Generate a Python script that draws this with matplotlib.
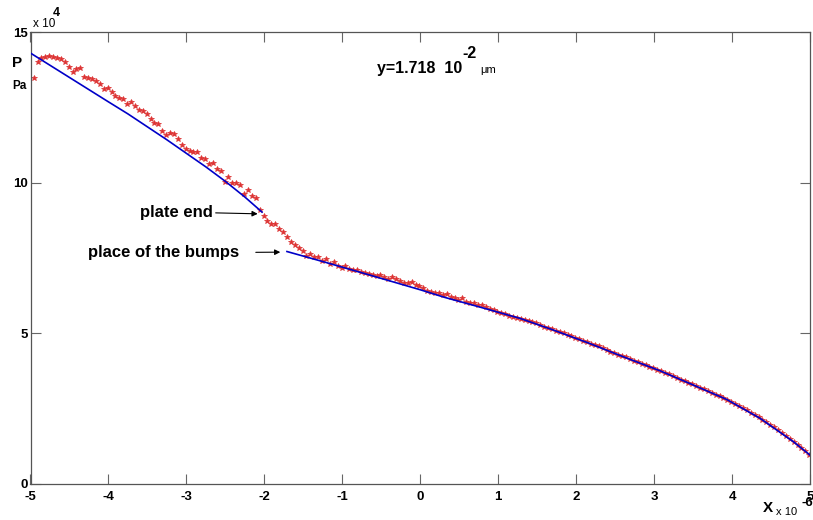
import numpy as np
import matplotlib
matplotlib.use("Agg")
import matplotlib.pyplot as plt

plt.rcParams['font.family'] = ['Liberation Sans', 'DejaVu Sans']
plt.rcParams['font.weight'] = 'bold'

# measured points (x in 1e-6, P in 1e4 Pa)
x_dots = np.linspace(-4.96, 4.99, 200)
p_dots = [
    13.49, 14.00, 14.16, 14.18, 14.22, 14.19, 14.14, 14.12, 14.03, 13.86,
    13.69, 13.78, 13.81, 13.52, 13.47, 13.45, 13.39, 13.28, 13.11, 13.14,
    13.03, 12.90, 12.81, 12.79, 12.61, 12.68, 12.55, 12.42, 12.37, 12.29,
    12.11, 12.00, 11.95, 11.73, 11.59, 11.65, 11.61, 11.45, 11.26, 11.12,
    11.07, 11.04, 11.04, 10.82, 10.79, 10.63, 10.67, 10.45, 10.41, 10.04,
    10.19, 10.01, 9.99, 9.93, 9.63, 9.77, 9.56, 9.49, 9.10, 8.90,
    8.75, 8.64, 8.64, 8.46, 8.38, 8.21, 8.03, 7.94, 7.83, 7.75,
    7.58, 7.63, 7.53, 7.54, 7.41, 7.47, 7.31, 7.38, 7.25, 7.18,
    7.25, 7.14, 7.12, 7.10, 7.05, 7.02, 6.97, 6.94, 6.91, 6.94,
    6.86, 6.80, 6.88, 6.81, 6.75, 6.69, 6.67, 6.70, 6.61, 6.58,
    6.50, 6.41, 6.37, 6.35, 6.35, 6.28, 6.31, 6.22, 6.17, 6.11,
    6.19, 6.05, 6.02, 6.00, 5.94, 5.94, 5.87, 5.80, 5.78, 5.72,
    5.67, 5.64, 5.58, 5.54, 5.50, 5.47, 5.45, 5.40, 5.38, 5.33,
    5.27, 5.23, 5.18, 5.14, 5.09, 5.05, 5.00, 4.96, 4.90, 4.86,
    4.80, 4.76, 4.70, 4.66, 4.60, 4.57, 4.50, 4.46, 4.40, 4.36,
    4.30, 4.25, 4.21, 4.15, 4.10, 4.05, 4.00, 3.95, 3.90, 3.85,
    3.80, 3.75, 3.69, 3.64, 3.58, 3.53, 3.47, 3.42, 3.36, 3.31,
    3.25, 3.19, 3.14, 3.08, 3.02, 2.97, 2.91, 2.86, 2.80, 2.73,
    2.66, 2.59, 2.52, 2.45, 2.37, 2.30, 2.22, 2.14, 2.05, 1.97,
    1.88, 1.79, 1.70, 1.60, 1.50, 1.41, 1.30, 1.19, 1.08, 0.97,
]

# fitted curves
x_fit1 = [-5.0, -4.5, -4.0, -3.75, -3.5, -3.25, -3.0, -2.75, -2.5, -2.25, -2.03]
p_fit1 = [14.31, 13.50, 12.69, 12.29, 11.86, 11.43, 10.98, 10.53, 10.05, 9.53, 9.03]
x_fit2 = [-1.71, -1.2, -0.65, 0.0, 0.31, 0.8, 1.28, 1.7, 2.17, 2.6, 3.076, 3.5, 3.93, 4.36, 4.79, 5.0]
p_fit2 = [7.72, 7.35, 6.94, 6.45, 6.20, 5.85, 5.50, 5.12, 4.67, 4.23, 3.76, 3.29, 2.81, 2.18, 1.40, 0.96]

x_ticks = [-5, -4, -3, -2, -1, 0, 1, 2, 3, 4, 5]
y_ticks = [0, 5, 10, 15]

W, H = 813, 520
fig = plt.figure(figsize=(W / 100, H / 100), dpi=100)
ax = fig.add_axes([30.5 / W, 36 / H, (810 - 30.5) / W, (484 - 32.3) / H])

ax.plot(x_dots, p_dots, linestyle='none', marker='*', markersize=4,
        color='#dd3333', markeredgewidth=0.5, zorder=2)
ax.plot(x_fit1, p_fit1, color='#0000c8', lw=1.2, zorder=3)
ax.plot(x_fit2, p_fit2, color='#0000c8', lw=1.2, zorder=3)

ax.set_xlim(-5, 5)
ax.set_ylim(0, 15)
ax.set_xticks(x_ticks)
ax.set_yticks(y_ticks)
ax.set_xticklabels([str(v) for v in x_ticks])
ax.set_yticklabels([str(v) for v in y_ticks])
ax.tick_params(direction='in', length=7, width=0.8, color='#666666',
               top=True, right=True, labelsize=9.5)
ax.tick_params(axis='x', pad=5)
ax.tick_params(axis='y', pad=2)
for lab in ax.get_xticklabels() + ax.get_yticklabels():
    lab.set_fontweight('bold')
for s in ax.spines.values():
    s.set_color('#555555')
    s.set_linewidth(0.9)

def ftext(px, py, s, **kw):
    fig.text(px / W, 1 - py / H, s, **kw)

ftext(33, 24, 'x 10', fontsize=8.5, ha='left', va='center', fontweight='normal')
ftext(53, 13, '4', fontsize=9, ha='left', va='center')
ftext(12, 63, 'P', fontsize=11, ha='left', va='center')
ftext(12, 86, 'Pa', fontsize=8.5, ha='left', va='center')
ftext(377, 68, 'y=1.718  10', fontsize=11.5, ha='left', va='center')
ftext(462, 54, '-2', fontsize=11.5, ha='left', va='center')
ftext(480, 70, 'μm', fontsize=8, ha='left', va='center', fontweight='normal')
ftext(763, 508, 'X', fontsize=11, ha='left', va='center')
ftext(776, 512, 'x 10', fontsize=8, ha='left', va='center', fontweight='normal')
ftext(801, 503, '-6', fontsize=9.5, ha='left', va='center')

ax.annotate('plate end', xy=(-2.05, 8.97), xytext=(140, H - 212),
            textcoords='figure pixels', fontsize=12, fontweight='bold',
            va='center', ha='left',
            arrowprops=dict(arrowstyle='-|>', color='black', lw=0.8,
                            shrinkA=82, shrinkB=2, mutation_scale=8))
ax.annotate('place of the bumps', xy=(-1.76, 7.7), xytext=(88, H - 253),
            textcoords='figure pixels', fontsize=12, fontweight='bold',
            va='center', ha='left',
            arrowprops=dict(arrowstyle='-|>', color='black', lw=0.8,
                            shrinkA=10, shrinkB=2, mutation_scale=8))

fig.savefig('out.png', dpi=100)
